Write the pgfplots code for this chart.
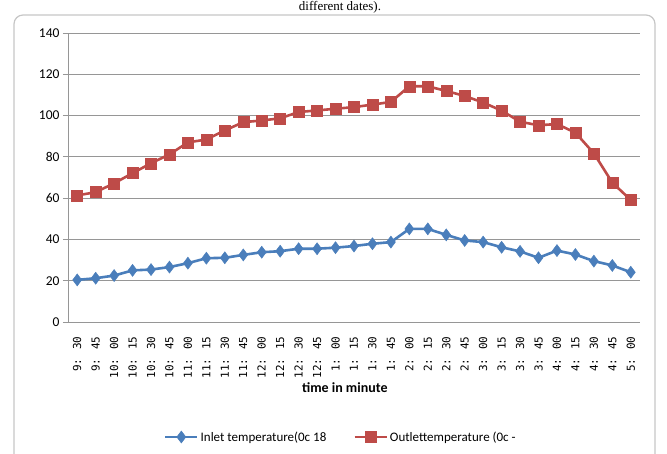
\documentclass[border=0pt]{standalone}
\usepackage{fontspec}
\setmainfont{Carlito}
\newfontfamily\monofont{DejaVu Sans Mono}
\newfontfamily\capfont{Liberation Serif}
\usepackage{pgfplots}
\pgfplotsset{compat=1.18}
\definecolor{inblue}{RGB}{74,126,187}
\definecolor{outred}{RGB}{190,75,72}
\definecolor{gridgray}{RGB}{150,150,150}
\begin{document}
\begin{tikzpicture}[x=1pt,y=1pt]
\useasboundingbox (-68,-132) rectangle (599,322);
\node[anchor=base,font=\capfont\fontsize{13}{14}\selectfont,inner sep=0pt] at (272,311) {different dates).};
\draw[gray!45,line width=1.2pt,rounded corners=9pt] (-54,-150) -- (-54,307) -- (587,307) -- (587,-150);
\begin{axis}[
  at={(0,0)}, anchor=south west,
  scale only axis, width=572pt, height=289pt,
  xmin=-0.5, xmax=30.5, ymin=0, ymax=140,
  axis x line*=bottom, axis y line*=left,
  axis line style={-,gridgray,line width=0.8pt},
  xtick={0,...,30},
  xticklabels={9: 30,9: 45,10: 00,10: 15,10: 30,10: 45,11: 00,11: 15,11: 30,11: 45,12: 00,12: 15,12: 30,12: 45,1: 00,1: 15,1: 30,1: 45,2: 00,2: 15,2: 30,2: 45,3: 00,3: 15,3: 30,3: 45,4: 00,4: 15,4: 30,4: 45,5: 00},
  x tick label style={rotate=90,anchor=east,font=\monofont\fontsize{11}{12}\selectfont},
  xtick style={draw=none},
  minor xtick={-0.5,0.5,...,30.5},
  minor tick length=5pt,
  minor tick style={gridgray,line width=0.8pt},
  xticklabel shift=6pt,
  ytick={0,20,...,140},
  ytick style={gridgray,line width=0.8pt},
  major tick length=5pt,
  tick align=outside,
  y tick label style={font=\fontsize{13.5}{14}\selectfont},
  /pgf/number format/assume math mode=true,
  ymajorgrids,
  grid style={gridgray,line width=0.8pt},
  xlabel={time in minute},
  xlabel style={at={(axis description cs:0.484,-0.228)},anchor=center,font=\bfseries\fontsize{14}{16}\selectfont},
  legend columns=2,
  legend style={at={(axis description cs:0.477,-0.398)},anchor=center,draw=none,fill=none,font=\fontsize{13}{14}\selectfont,
    /tikz/every even column/.append style={column sep=25pt}},
  legend image code/.code={\draw[mark repeat=2,mark phase=2] plot coordinates {(0pt,0pt) (16pt,0pt) (32pt,0pt)};},
  clip=false,
]
\addplot[inblue,line width=2.6pt,mark=diamond*,mark size=6pt,mark options={solid,fill=inblue,draw=inblue,line width=0.5pt}] coordinates {
(0,20.4)(1,21.2)(2,22.5)(3,25.0)(4,25.4)(5,26.6)(6,28.5)(7,30.9)(8,31.1)(9,32.5)
(10,33.8)(11,34.3)(12,35.5)(13,35.5)(14,36.0)(15,36.8)(16,37.9)(17,38.7)(18,45.1)(19,45.1)
(20,42.2)(21,39.5)(22,38.7)(23,36.2)(24,34.2)(25,31.1)(26,34.6)(27,32.7)(28,29.5)(29,27.4)(30,24.1)};
\addlegendentry{Inlet temperature(0c 18}
\addplot[outred,line width=2.6pt,mark=square*,mark size=5.5pt,mark options={solid,fill=outred,draw=outred,line width=0.5pt}] coordinates {
(0,61.3)(1,62.9)(2,67.2)(3,72.1)(4,76.9)(5,81.2)(6,87.0)(7,88.4)(8,92.8)(9,96.8)
(10,97.6)(11,98.7)(12,101.7)(13,102.5)(14,103.3)(15,104.1)(16,105.3)(17,106.6)(18,114.2)(19,114.2)
(20,111.9)(21,109.5)(22,106.3)(23,102.4)(24,97.0)(25,95.3)(26,95.9)(27,91.7)(28,81.7)(29,67.5)(30,59.1)};
\addlegendentry{Outlettemperature (0c -}
\end{axis}
\end{tikzpicture}
\end{document}
